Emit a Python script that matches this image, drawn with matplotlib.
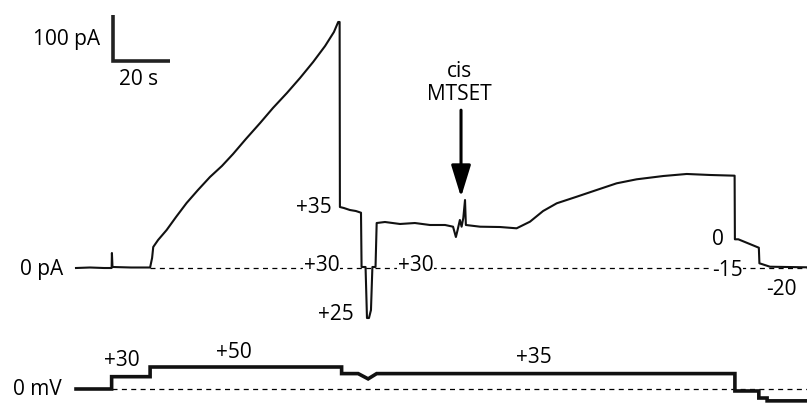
import matplotlib
matplotlib.use('Agg')
import matplotlib.pyplot as plt

# ----------------------------------------------------------
# Data (time in s, current in pA, voltage in mV)
# ----------------------------------------------------------
current_t = [0.0, 4.9, 9.8, 12.5, 12.6, 12.8, 19.3, 26.0, 26.7, 27.1, 28.8,
             31.8, 35.1, 38.8, 42.8, 47.0, 51.2, 55.1, 59.6, 64.6, 69.1,
             74.0, 78.6, 83.2, 87.4, 90.5, 92.0, 92.5, 92.6, 94.0, 96.1,
             98.2, 100.0, 100.2, 101.6, 102.1, 102.8, 103.5, 104.0, 105.1,
             105.5, 108.4, 113.7, 118.9, 124.2, 129.5, 132.3, 133.3, 133.9,
             134.7, 135.3, 135.9, 136.5, 136.8, 141.8, 148.8, 154.6, 159.3,
             163.9, 168.7, 175.7, 182.7, 189.7, 196.7, 206.1, 214.3, 222.5,
             231.1, 231.2, 232.4, 239.6, 239.8, 240.6, 243.5, 256.5]
current_pa = [-1.1, 0.0, -1.1, -1.1, 31.5, 1.1, 0.0, 0.0, 20.7, 44.6, 59.8,
              81.5, 109.8, 140.2, 168.5, 196.7, 220.7, 246.7, 279.3, 314.1, 346.7,
              379.3, 411.9, 446.7, 481.5, 511.9, 533.7, 533.7, 131.5, 129.3, 125.0,
              122.8, 119.1, 1.1, 1.1, -109.8, -109.8, -92.4, 1.1, 1.1,
              96.7, 98.9, 94.6, 96.7, 92.4, 92.4, 88.7, 66.3, 81.5,
              103.3, 88.7, 107.6, 146.7, 92.4, 88.7, 88.0, 85.2, 99.6,
              122.8, 139.6, 153.9, 168.5, 183.0, 191.7, 198.9, 203.3, 201.1,
              199.6, 61.3, 61.3, 43.0, 9.1, 7.6, 1.7, 0.4]

voltage_t = [0.0, 12.5, 12.5, 26.0, 26.0, 93.2, 93.2, 99.0, 102.5, 105.5,
             231.2, 231.2, 239.6, 239.6, 242.5, 242.5, 256.5]
voltage_mv = [0, 0, 28, 28, 50, 50, 35, 35, 23, 35,
              35, -4.5, -4.5, -20.5, -20.5, -27, -27]

# step labels on the current trace (text, t, pA)
current_labels = ['+35', '+30', '+25', '+30', '0', '-15', '-20']
current_label_t = [83.3, 86.1, 91.1, 119.1, 225.1, 228.6, 247.5]
current_label_pa = [130.4, 4.3, -102.2, 4.3, 60.9, -6.5, -47.8]

# step labels on the voltage trace
voltage_labels = ['+30', '+50', '+35']
voltage_label_t = [16.1, 55.4, 160.7]
voltage_label_mv = [65.9, 84.1, 70.5]

# scale bars
bar_time = 20     # s
bar_current = 100  # pA

# ----------------------------------------------------------
# Figure layout: 807 x 405 px
# ----------------------------------------------------------
plt.rcParams['font.family'] = ['Open Sans', 'DejaVu Sans']
plt.rcParams['font.size'] = 15

fig = plt.figure(figsize=(8.07, 4.05), dpi=100)
ax_i = fig.add_axes([0, 65 / 405, 1, 340 / 405])
ax_v = fig.add_axes([0, 0, 1, 65 / 405])

for ax in (ax_i, ax_v):
    ax.set_axis_off()
    ax.set_xlim(-26.67, 256.5)

ax_i.set_ylim(-157.6, 581.5)
ax_v.set_ylim(-36.4, 111.4)

# --- current panel ----------------------------------------
ax_i.plot([26.0, 256.5], [0, 0], color='black', lw=0.9, dashes=(4, 3.5), zorder=1)
ax_i.plot(current_t, current_pa, color='#111111', lw=1.5, zorder=3)

for txt, t, y in zip(current_labels, current_label_t, current_label_pa):
    ax_i.text(t, y, txt, ha='center', va='center', zorder=2,
              bbox=dict(facecolor='white', edgecolor='none', pad=0.5))

ax_i.text(-4.6, -5, '0 pA', ha='right', va='center')

# scale bar
ax_i.plot([13.0, 13.0, 13.0 + bar_time], [449 + bar_current, 449, 449],
          color='#222222', lw=2.6, solid_joinstyle='miter', solid_capstyle='butt')
ax_i.text(8.4, 494.6, f'{bar_current} pA', ha='right', va='center')
ax_i.text(21.8, 407.6, f'{bar_time} s', ha='center', va='center')

# MTSET addition
ax_i.text(134.5, 425, 'cis', ha='center', va='center')
ax_i.text(134.6, 376, 'MTSET', ha='center', va='center')
ax_i.annotate('', xy=(135.1, 153), xytext=(135.1, 342),
              arrowprops=dict(arrowstyle='-|>,head_length=1.3,head_width=0.4',
                              color='black', lw=2.2, shrinkA=0, shrinkB=0))

# --- voltage panel ----------------------------------------
ax_v.plot([12.6, 256.5], [0, 0], color='black', lw=0.9, dashes=(4, 3.5), zorder=1)
ax_v.plot(voltage_t, voltage_mv, color='#111111', lw=2.6, zorder=3,
          solid_joinstyle='miter')
for txt, t, y in zip(voltage_labels, voltage_label_t, voltage_label_mv):
    ax_v.text(t, y, txt, ha='center', va='center')
ax_v.text(-4.9, -1, '0 mV', ha='right', va='center')

fig.savefig('out.png', dpi=100)
